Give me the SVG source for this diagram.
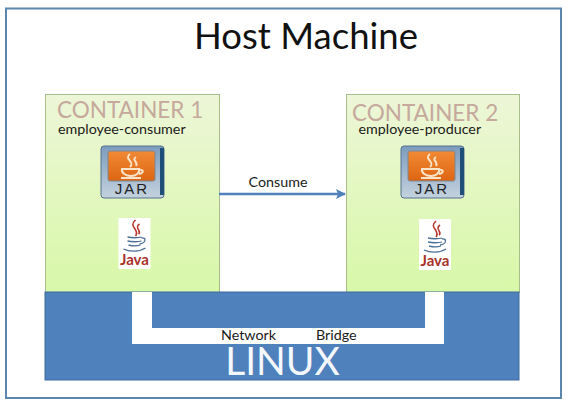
<svg xmlns="http://www.w3.org/2000/svg" width="568" height="402" viewBox="0 0 568 402">
<style>
text{font-family:Lato,"Open Sans","Liberation Sans",sans-serif}
.c{fill:url(#g);stroke:#a9bd8a;stroke-width:1}
.ct{font-size:22.500px;fill:#c6a89c}
.sub{font-size:14.300px;fill:#1a1a1a}
.jl{font-family:"Liberation Sans",sans-serif;font-size:15px;fill:#222;letter-spacing:2px;text-anchor:middle}
.jv{font-size:15px;font-weight:bold;fill:#a8322c;text-anchor:middle}
.st{fill:none;stroke:#b8352c;stroke-width:1.6}
.cup{fill:none;stroke:#4d6f96;stroke-width:1.3}
</style>
<defs>
<linearGradient id="g" x1="0" y1="0" x2="0" y2="1"><stop offset="0" stop-color="#edf6d8"/><stop offset="1" stop-color="#d8f8a8"/></linearGradient>
<linearGradient id="o" x1="0" y1="0" x2="0" y2="1"><stop offset="0" stop-color="#f28a35"/><stop offset="1" stop-color="#dd6512"/></linearGradient>
<linearGradient id="b" x1="0" y1="0" x2="0" y2="1"><stop offset="0" stop-color="#7c9cbd"/><stop offset="1" stop-color="#c4d2de"/></linearGradient>
<marker id="a" markerWidth="11" markerHeight="11" refX="9" refY="5" orient="auto" markerUnits="userSpaceOnUse"><path d="M0 0L10 5L0 10L2 5Z" fill="#4f81bd"/></marker>
<g id="jar">
<rect x="0" y="0" width="63" height="52" rx="3" fill="url(#b)" stroke="#54718f"/>
<path d="M59 2h4v47h-4z" fill="#1f4e79"/>
<rect x="7" y="5" width="47" height="30" rx="2" fill="url(#o)" stroke="#7b8794"/>
<path class="st" style="stroke:#fbe3c8;stroke-width:2" d="M29 8c-7 5 6 8 0 13M35 11c-5 3 3 5 0 9"/>
<path class="st" style="stroke:#fbe3c8;stroke-width:2" d="M21 23h17c1 4-3 7-8 7s-10-3-9-7zM38 24c5-1 5 3 0 4M20 32h20"/>
<text class="jl" x="31" y="48">JAR</text>
</g>
<g id="java">
<rect x="0" y="0" width="32" height="51" fill="#fff"/>
<path class="st" d="M17 2c-8 7 5 9 0 16M21 6c-6 4 3 7-1 10"/>
<path class="cup" d="M9 19c4 1 11 1 14 0M9 23c4 1 11 1 14 0M10 27c4 1 9 1 12 0M23 20c5-1 5 5-2 6M5 31c6 3 16 3 22-1"/>
<text class="jv" x="16" y="47">Java</text>
</g>
</defs>
<rect width="568" height="402" fill="#fff"/>
<rect id="host" x="6" y="8.500" width="555" height="389.500" fill="#fff" stroke="#5b86ad" stroke-width="2"/>
<text x="306" y="49" font-size="36.500" text-anchor="middle" fill="#111">Host Machine</text>
<g id="container1">
<rect class="c" x="45.500" y="94.500" width="174" height="198"/>
<text class="ct" x="57" y="118">CONTAINER 1</text>
<text class="sub" x="58" y="134">employee-consumer</text>
<use href="#jar" x="101" y="146"/>
<use href="#java" x="118.500" y="218"/>
</g>
<g id="container2">
<rect class="c" x="346.500" y="94.500" width="173" height="198"/>
<text class="ct" x="352" y="120.500">CONTAINER 2</text>
<text class="sub" x="358.500" y="134">employee-producer</text>
<use href="#jar" x="401" y="146"/>
<use href="#java" x="419" y="219"/>
</g>
<g id="linux">
<rect x="45" y="292" width="474" height="88" fill="#4f81bd" stroke="#3f6a9c"/>
<path d="M132 292h20v36h273v-36h19v52H132z" fill="#fff"/>
<text x="282.500" y="375" font-size="39" text-anchor="middle" fill="#f4f8fc">LINUX</text>
<text class="sub" x="221" y="340">Network</text>
<text class="sub" x="316" y="340">Bridge</text>
</g>
<g id="connectors">
<line x1="219" y1="194" x2="345" y2="194" stroke="#4f81bd" stroke-width="2.500" marker-end="url(#a)"/>
<text class="sub" x="248.500" y="187">Consume</text>
</g>
</svg>
